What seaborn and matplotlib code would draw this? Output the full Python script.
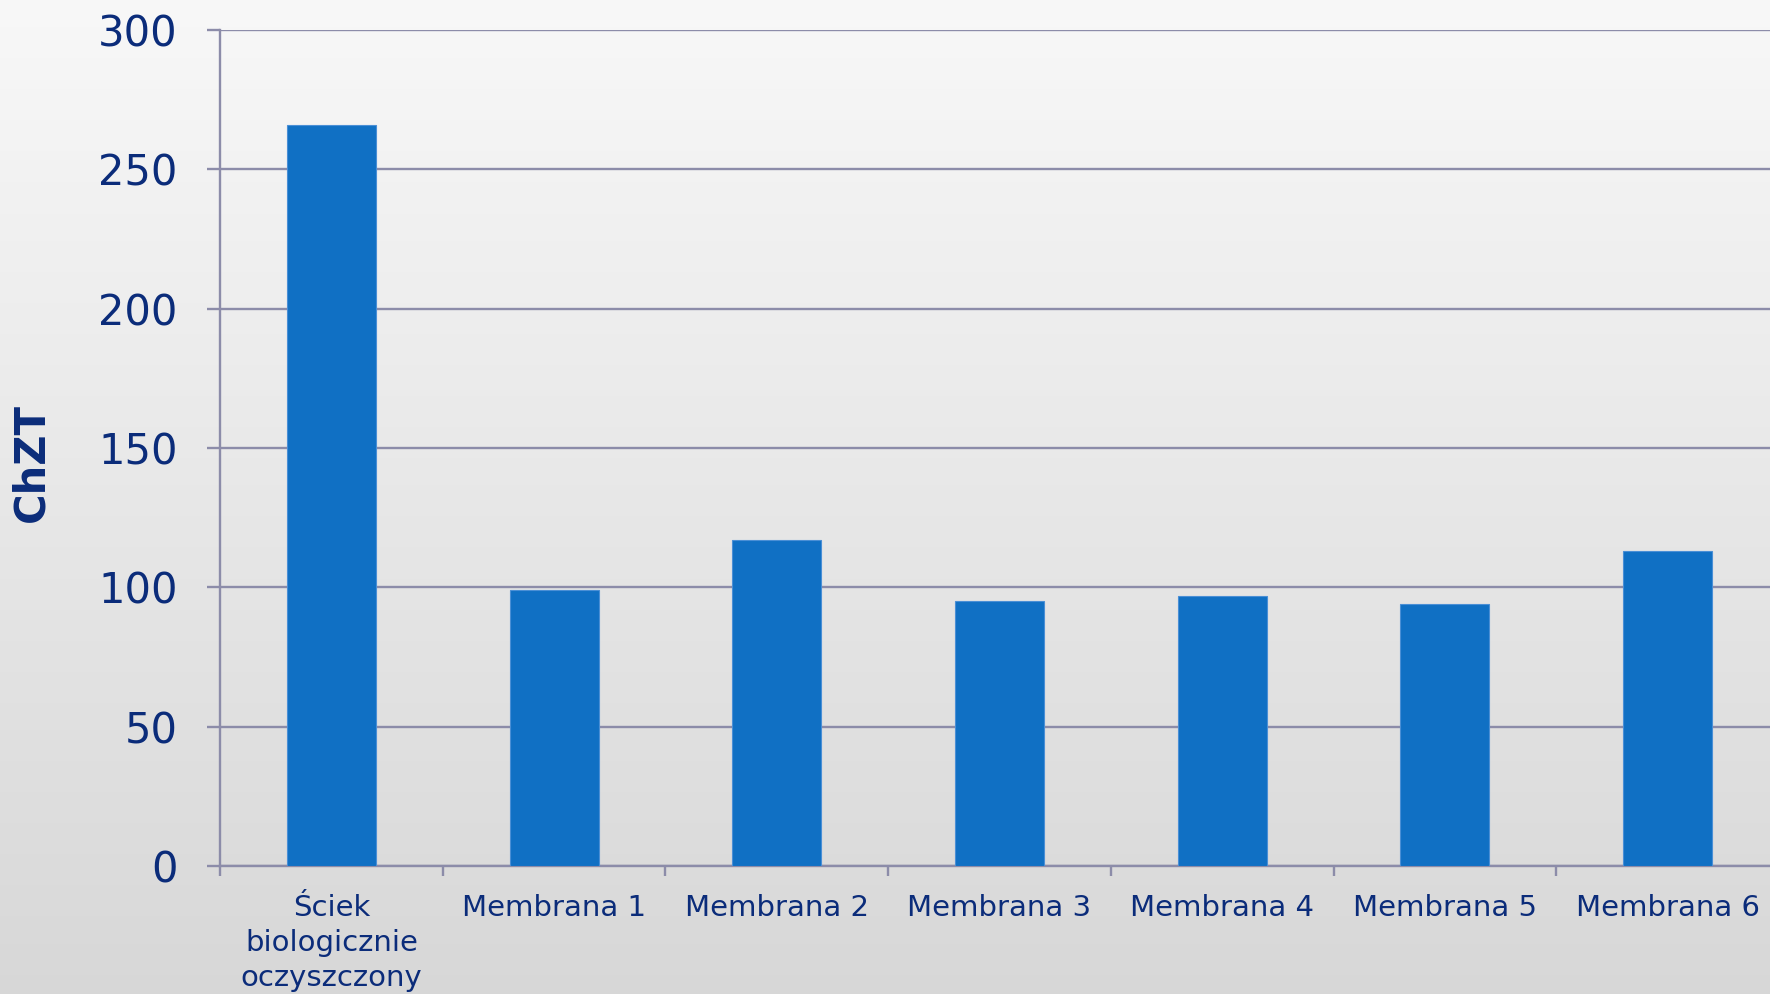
import numpy as np
import matplotlib
matplotlib.use("Agg")
import matplotlib.pyplot as plt
import seaborn as sns
import pandas as pd

categories = ["Ściek\nbiologicznie\noczyszczony", "Membrana 1", "Membrana 2",
              "Membrana 3", "Membrana 4", "Membrana 5", "Membrana 6"]
values = [266, 99, 117, 95, 97, 94, 113]
y_ticks = [0, 50, 100, 150, 200, 250, 300]
y_label = "ChZT"

sns.set_theme(style="white")
plt.rcParams['font.family'] = ['DejaVu Sans']

W, H = 1770, 994
fig = plt.figure(figsize=(W / 100, H / 100), dpi=100)

# background gradient
bg = fig.add_axes([0, 0, 1, 1], zorder=-10)
grad = np.linspace(0, 1, 256).reshape(-1, 1)
top_c = np.array([0.972, 0.972, 0.972])
bot_c = np.array([0.845, 0.845, 0.845])
img = top_c[None, None, :] * (1 - grad[:, :, None]) + bot_c[None, None, :] * grad[:, :, None]
bg.imshow(img, aspect='auto', extent=[0, 1, 0, 1], origin='upper')
bg.axis('off')

left_px, right_px, top_px, bot_px = 220, 1779, 30, 866
ax = fig.add_axes([left_px / W, 1 - bot_px / H, (right_px - left_px) / W, (bot_px - top_px) / H])
ax.set_facecolor('none')

df = pd.DataFrame({"cat": categories, "val": values})
sns.barplot(data=df, x="cat", y="val", color="#1070c4", width=0.4, ax=ax,
            edgecolor="#4a8fd6", linewidth=0.8, saturation=1, zorder=3)

grid_c = "#8c8ca9"
text_c = "#0b2c7a"

ax.set_ylim(0, 300)
ax.set_xlim(-0.5, len(categories) - 0.5)
ax.set_yticks(y_ticks)
ax.set_yticklabels([str(v) for v in y_ticks])
ax.yaxis.grid(True, color=grid_c, linewidth=1.7, zorder=0)
ax.set_axisbelow(True)

# x ticks at category boundaries, labels at centers
ax.set_xticks(np.arange(-0.5, len(categories) + 0.5, 1.0))
ax.set_xticklabels([])
ax.set_xticks(np.arange(len(categories)), minor=True)
ax.set_xticklabels(categories, minor=True, fontsize=21, color=text_c, linespacing=1.33)
ax.tick_params(axis='x', which='major', direction='out', length=7.5, width=1.7, color=grid_c, bottom=True)
ax.tick_params(axis='x', which='minor', length=0, pad=20, bottom=True)
ax.tick_params(axis='y', direction='out', length=9.5, width=1.7, color=grid_c,
               labelsize=30, labelcolor=text_c, pad=21, left=True)

for s in ['top', 'right']:
    ax.spines[s].set_visible(False)
for s in ['left', 'bottom']:
    ax.spines[s].set_visible(True)
    ax.spines[s].set_color(grid_c)
    ax.spines[s].set_linewidth(1.7)

ax.set_xlabel("")
ax.set_ylabel("")
fig.text(31 / W, 1 - 462 / H, y_label, rotation=90, ha='center', va='center',
         fontsize=30, fontweight='bold', color=text_c)

fig.savefig("out.png", dpi=100)
